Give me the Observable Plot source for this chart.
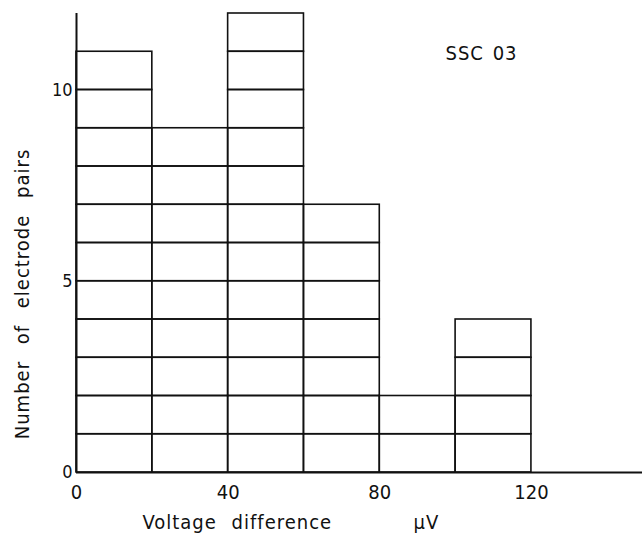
<!DOCTYPE html>
<html>
<head>
<meta charset="utf-8">
<script src="https://cdn.jsdelivr.net/npm/d3@7"></script>
<script src="https://cdn.jsdelivr.net/npm/@observablehq/plot@0.6"></script>
<style>
  html, body { margin: 0; padding: 0; background: #fff; }
  svg text { font-family: "Liberation Sans Narrow", "DejaVu Sans Condensed", sans-serif; }
</style>
</head>
<body>
<div id="chart"></div>
<script>
// Histogram: bin start (μV), bin width 20, counts of electrode pairs
const binStarts = [0, 20, 40, 60, 80, 100];
const binWidth = 20;
const counts = [11, 9, 12, 7, 2, 4];
const xTicks = [0, 40, 80, 120];
const yTicks = [0, 5, 10];
const xLabel = "Voltage difference";
const unitLabel = "μV";
const yLabel = "Number of electrode pairs";
const title = "SSC 03";

// each bar is drawn as a stack of unit cells (one per electrode pair)
const cells = binStarts.flatMap((x0, i) =>
  d3.range(counts[i]).map(k => ({x1: x0, x2: x0 + binWidth, y1: k, y2: k + 1}))
);

const font = {fontFamily: "Liberation Sans Narrow, DejaVu Sans Condensed, sans-serif"};

const plot = Plot.plot({
  width: 642,
  height: 535,
  marginLeft: 76,
  marginRight: 0,
  marginTop: 13,
  marginBottom: 63,
  x: {domain: [0, 149.3]},
  y: {domain: [0, 12]},
  style: {background: "#fff", color: "#111"},
  marks: [
    Plot.rect(cells, {x1: "x1", x2: "x2", y1: "y1", y2: "y2", fill: "none", stroke: "#111", strokeWidth: 1.6}),
    Plot.ruleY([0], {stroke: "#111", strokeWidth: 2}),
    Plot.ruleX([0], {stroke: "#111", strokeWidth: 2}),
    Plot.axisX(xTicks, {tickSize: 0, tickPadding: 12, fontSize: 20, label: null, ...font}),
    Plot.axisY(yTicks, {tickSize: 0, tickPadding: 4, fontSize: 18, label: null, ...font}),
    Plot.text([title], {frameAnchor: "top-left", textAnchor: "start", dx: 369, dy: 32, fontSize: 20, ...font}),
    Plot.text([xLabel], {frameAnchor: "bottom-left", textAnchor: "start", dx: 66, dy: 56, fontSize: 20, ...font}),
    Plot.text([unitLabel], {frameAnchor: "bottom-left", textAnchor: "start", dx: 337, dy: 56, fontSize: 20, ...font}),
    Plot.text([yLabel], {frameAnchor: "left", textAnchor: "middle", rotate: -90, dx: -54, dy: 51, fontSize: 20, ...font})
  ]
});

const spacing = {
  [title]: ["1px", "2px"],
  [xLabel]: ["1px", "8px"],
  [unitLabel]: ["1px", "0px"],
  [yLabel]: ["1px", "10px"]
};
d3.select(plot).selectAll("text").each(function() {
  const s = spacing[this.textContent];
  if (s) { this.setAttribute("letter-spacing", s[0]); this.setAttribute("word-spacing", s[1]); }
});

document.getElementById("chart").appendChild(plot);
</script>
</body>
</html>
